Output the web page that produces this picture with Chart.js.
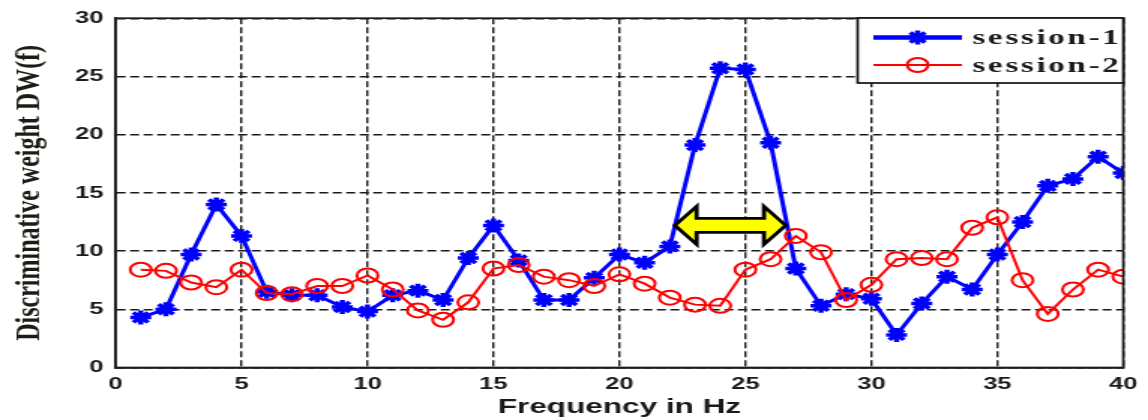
<!DOCTYPE html>
<html>
<head>
<meta charset="utf-8">
<title>Discriminative weight by frequency</title>
<script src="https://cdn.jsdelivr.net/npm/chart.js@4.4.1/dist/chart.umd.min.js"></script>
<style>
  html, body { margin: 0; padding: 0; background: #fff; }
  #wrap { width: 1148px; height: 420px; overflow: hidden; }
</style>
</head>
<body>
<div id="wrap"><canvas id="chart" width="765" height="420" style="display:block;width:1148px;height:420px"></canvas></div>
<script>
// Frequency bins (Hz)
const freqHz = [1, 2, 3, 4, 5, 6, 7, 8, 9, 10,
                11, 12, 13, 14, 15, 16, 17, 18, 19, 20,
                21, 22, 23, 24, 25, 26, 27, 28, 29, 30,
                31, 32, 33, 34, 35, 36, 37, 38, 39, 40];

// Discriminative weight DW(f), session 1
const session1 = [4.3, 5.0, 9.7, 14.0, 11.3, 6.5, 6.2, 6.2, 5.2, 4.8,
                  6.2, 6.6, 5.8, 9.4, 12.2, 9.2, 5.8, 5.8, 7.7, 9.7,
                  9.0, 10.4, 19.1, 25.7, 25.6, 19.3, 8.5, 5.3, 6.3, 5.9,
                  2.8, 5.5, 7.8, 6.7, 9.7, 12.5, 15.6, 16.2, 18.1, 16.7];

// Discriminative weight DW(f), session 2
const session2 = [8.4, 8.3, 7.3, 6.9, 8.4, 6.4, 6.3, 7.0, 7.0, 7.9,
                  6.7, 4.9, 4.1, 5.6, 8.5, 8.8, 7.8, 7.5, 7.0, 8.0,
                  7.2, 6.0, 5.4, 5.3, 8.4, 9.3, 11.3, 9.9, 5.8, 7.1,
                  9.3, 9.4, 9.3, 12.0, 12.9, 7.5, 4.6, 6.7, 8.4, 7.8];

const seriesNames = ['session-1', 'session-2'];

// Axis ticks
const xTicks = [0, 5, 10, 15, 20, 25, 30, 35, 40];
const yTicks = [0, 5, 10, 15, 20, 25, 30];

// Frequency band highlighted by the double arrow (Hz) and its DW level
const bandHz = [22.2, 26.6];
const bandLevel = 12.2;

const toPoints = (vals) => freqHz.map((f, i) => ({ x: f, y: vals[i] }));

// Solid box around the plotting area
const framePlugin = {
  id: 'frame',
  afterDatasetsDraw(chart) {
    const { ctx, chartArea: a } = chart;
    ctx.save();
    ctx.strokeStyle = '#1a1a1a';
    ctx.lineWidth = 1.7;
    ctx.setLineDash([]);
    ctx.strokeRect(a.left, a.top, a.right - a.left, a.bottom - a.top);
    ctx.restore();
  }
};

// Yellow double-headed arrow marking the band
const arrowPlugin = {
  id: 'bandArrow',
  afterDatasetsDraw(chart) {
    const { ctx } = chart;
    const xs = chart.scales.x, ys = chart.scales.y;
    const x1 = xs.getPixelForValue(bandHz[0]);
    const x2 = xs.getPixelForValue(bandHz[1]);
    const y = ys.getPixelForValue(bandLevel);
    const head = 14.5, hh = 19, bh = 7;
    ctx.save();
    ctx.beginPath();
    ctx.moveTo(x1, y);
    ctx.lineTo(x1 + head, y - hh);
    ctx.lineTo(x1 + head, y - bh);
    ctx.lineTo(x2 - head, y - bh);
    ctx.lineTo(x2 - head, y - hh);
    ctx.lineTo(x2, y);
    ctx.lineTo(x2 - head, y + hh);
    ctx.lineTo(x2 - head, y + bh);
    ctx.lineTo(x1 + head, y + bh);
    ctx.lineTo(x1 + head, y + hh);
    ctx.closePath();
    ctx.fillStyle = '#ffff00';
    ctx.fill();
    ctx.lineWidth = 2.8;
    ctx.lineJoin = 'miter';
    ctx.strokeStyle = '#000';
    ctx.stroke();
    ctx.restore();
  }
};

// Boxed legend in the upper-right corner of the plot
const boxLegendPlugin = {
  id: 'boxLegend',
  afterDatasetsDraw(chart) {
    const { ctx, chartArea: a } = chart;
    const bx = 571.5, by = 18, bw = a.right - bx, bhgt = 65;
    ctx.save();
    ctx.fillStyle = '#fff';
    ctx.fillRect(bx, by, bw, bhgt);
    ctx.strokeStyle = '#111';
    ctx.lineWidth = 1.7;
    ctx.strokeRect(bx, by, bw, bhgt);

    const rows = [by + 19.5, by + 47];
    const lx1 = 582, lx2 = 641, tx = 648;
    chart.data.datasets.forEach((ds, i) => {
      const ry = rows[i];
      ctx.save();
      ctx.strokeStyle = ds.borderColor;
      ctx.lineWidth = i === 0 ? 4.5 : 2;
      ctx.setLineDash([]);
      ctx.beginPath();
      ctx.moveTo(lx1, ry);
      ctx.lineTo(lx2, ry);
      ctx.stroke();
      ctx.fillStyle = ds.pointBackgroundColor;
      ctx.strokeStyle = ds.pointBorderColor;
      ctx.lineWidth = ds.pointBorderWidth;
      Chart.helpers.drawPoint(ctx, {
        pointStyle: ds.pointStyle,
        radius: ds.pointRadius,
        borderWidth: ds.pointBorderWidth,
        rotation: 0
      }, (lx1 + lx2) / 2, ry);
      ctx.restore();

      ctx.fillStyle = '#1a1a1a';
      ctx.font = 'bold 22px "Liberation Serif"';
      if ('letterSpacing' in ctx) ctx.letterSpacing = '1.8px';
      ctx.textAlign = 'left';
      ctx.textBaseline = 'middle';
      ctx.fillText(ds.label, tx, ry + 1);
    });
    ctx.restore();
  }
};

const gridStyle = { color: '#1a1a1a', lineWidth: 1.4, drawTicks: false };
const tickFont = { family: 'Liberation Sans', weight: 'bold', size: 17 };

new Chart(document.getElementById('chart'), {
  type: 'line',
  data: {
    datasets: [
      {
        label: seriesNames[0],
        data: toPoints(session1),
        borderColor: '#0000ff',
        borderWidth: 3,
        pointStyle: 'star',
        pointRadius: 7,
        pointBorderWidth: 3.5,
        pointBackgroundColor: '#0000ff',
        pointBorderColor: '#0000ff',
        tension: 0,
        order: 1
      },
      {
        label: seriesNames[1],
        data: toPoints(session2),
        borderColor: '#ff0000',
        borderWidth: 2,
        pointStyle: 'circle',
        pointRadius: 7,
        pointBorderWidth: 2,
        pointBackgroundColor: 'rgba(0,0,0,0)',
        pointBorderColor: '#ff0000',
        tension: 0,
        order: 0
      }
    ]
  },
  options: {
    responsive: false,
    animation: false,
    devicePixelRatio: 1,
    layout: { padding: { top: 16, right: 0, left: 0, bottom: 0 } },
    plugins: {
      legend: { display: false },
      tooltip: { enabled: false }
    },
    scales: {
      x: {
        type: 'linear',
        min: 0,
        max: 40,
        afterBuildTicks: (s) => { s.ticks = xTicks.map(v => ({ value: v })); },
        afterFit: (s) => { s.height = 52.5; },
        grid: gridStyle,
        border: { display: true, color: '#1a1a1a', width: 1.7, dash: [6, 3] },
        ticks: {
          font: tickFont,
          color: '#1a1a1a',
          padding: 7,
          maxRotation: 0,
          autoSkip: false
        },
        title: {
          display: true,
          text: 'Frequency in Hz',
          font: { family: 'Liberation Sans', weight: 'bold', size: 21 },
          color: '#1a1a1a',
          padding: { top: 0, bottom: 0 }
        }
      },
      y: {
        type: 'linear',
        min: 0,
        max: 30,
        afterBuildTicks: (s) => { s.ticks = yTicks.map(v => ({ value: v })); },
        afterFit: (s) => { s.width = 77; },
        grid: gridStyle,
        border: { display: true, color: '#1a1a1a', width: 1.7, dash: [6, 3] },
        ticks: {
          font: tickFont,
          color: '#1a1a1a',
          padding: 8
        },
        title: {
          display: true,
          text: 'Discriminative weight DW(f)',
          font: { family: 'Liberation Serif', weight: 'bold', size: 24 },
          color: '#1e1a14',
          padding: { top: 5, bottom: 0 }
        }
      }
    }
  },
  plugins: [framePlugin, arrowPlugin, boxLegendPlugin]
});
</script>
</body>
</html>
